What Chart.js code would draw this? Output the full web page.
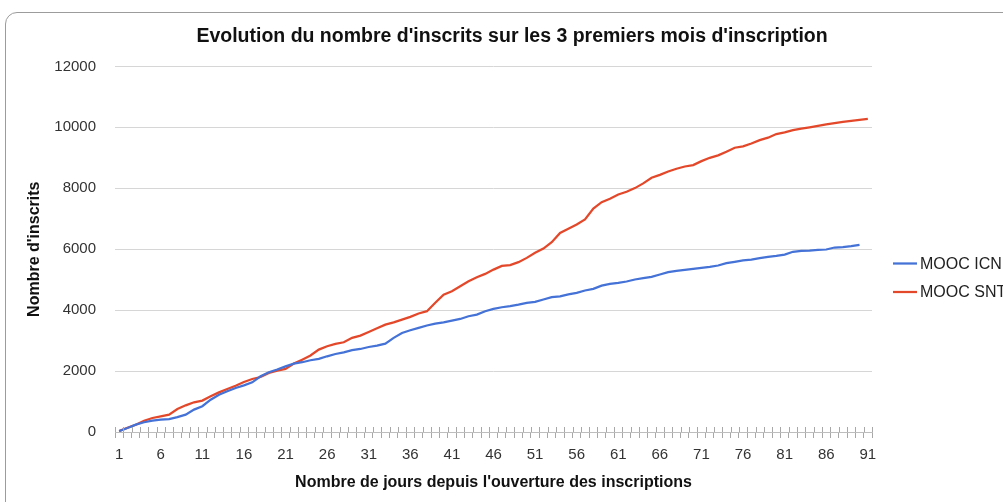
<!DOCTYPE html>
<html>
<head>
<meta charset="utf-8">
<script src="https://cdn.jsdelivr.net/npm/chart.js@4/dist/chart.umd.min.js"></script>
<style>
  html, body { margin: 0; padding: 0; background: #fff; overflow: hidden; width: 1003px; height: 502px; }
  #card { position: absolute; left: 5px; top: 12px; width: 1100px; height: 600px; border: 1px solid #9c9c9c; border-radius: 12px; box-sizing: border-box; }
  #wrap { position: absolute; left: 0; top: 0; width: 1024px; height: 502px; }
</style>
</head>
<body>
<div id="card"></div>
<div id="wrap"><canvas id="c"></canvas></div>
<script>
const days = Array.from({length: 91}, (_, i) => String(i + 1));

const moocICN = [
  30, 130, 240, 320, 370, 405, 425, 490, 570, 735,
  845, 1060, 1225, 1335, 1445, 1530, 1630, 1830, 1960, 2050,
  2155, 2245, 2290, 2355, 2400, 2485, 2560, 2615, 2685, 2725,
  2790, 2835, 2900, 3090, 3250, 3340, 3415, 3495, 3560, 3600,
  3655, 3710, 3800, 3855, 3965, 4040, 4095, 4130, 4180, 4240,
  4270, 4350, 4425, 4455, 4520, 4565, 4645, 4700, 4805, 4860,
  4895, 4940, 5005, 5050, 5090, 5170, 5245, 5290, 5320, 5355,
  5385, 5420, 5465, 5540, 5585, 5630, 5660, 5705, 5750, 5780,
  5825, 5915, 5945, 5955, 5980, 5990, 6055, 6065, 6100, 6145
];

const moocSNT = [
  30, 140, 240, 370, 460, 515, 570, 755, 875, 975,
  1030, 1170, 1300, 1410, 1520, 1640, 1740, 1805, 1940, 2015,
  2070, 2245, 2375, 2510, 2705, 2815, 2890, 2945, 3090, 3165,
  3285, 3405, 3525, 3600, 3690, 3780, 3890, 3965, 4240, 4510,
  4620, 4785, 4950, 5080, 5190, 5330, 5450, 5480, 5575, 5715,
  5880, 6020, 6230, 6535, 6670, 6810, 6975, 7335, 7545, 7655,
  7795, 7885, 8005, 8160, 8345, 8440, 8550, 8640, 8715, 8760,
  8890, 9000, 9080, 9200, 9330, 9375, 9470, 9580, 9660, 9780,
  9835, 9910, 9955, 10000, 10050, 10100, 10140, 10180, 10215, 10245,
  10275
];

const seriesNames = ['MOOC ICN', 'MOOC SNT'];
const titleText = "Evolution du nombre d'inscrits sur les 3 premiers mois d'inscription";
const xTitle = "Nombre de jours depuis l'ouverture des inscriptions";
const yTitle = "Nombre d'inscrits";

const FONT = "'Liberation Sans', Arial, sans-serif";

const sideLegend = {
  id: 'sideLegend',
  afterDraw(chart) {
    const ctx = chart.ctx;
    ctx.save();
    chart.data.datasets.forEach((ds, i) => {
      const y = 263.5 + i * 28.5;
      ctx.strokeStyle = ds.borderColor;
      ctx.lineWidth = ds.borderWidth;
      ctx.beginPath();
      ctx.moveTo(893, y);
      ctx.lineTo(917, y);
      ctx.stroke();
      ctx.fillStyle = '#222';
      ctx.font = '16px ' + FONT;
      ctx.textBaseline = 'middle';
      ctx.textAlign = 'left';
      ctx.fillText(ds.label, 920, y + 1);
    });
    ctx.restore();
  }
};

// small tick marks rising above the category axis line (Excel style cross ticks)
const crossTicks = {
  id: 'crossTicks',
  afterDraw(chart) {
    const xs = chart.scales.x;
    const ctx = chart.ctx;
    const n = chart.data.labels.length;
    const step = xs.getPixelForValue(1) - xs.getPixelForValue(0);
    const yb = chart.chartArea.bottom;
    ctx.save();
    ctx.strokeStyle = '#a8a8a8';
    ctx.lineWidth = 1;
    ctx.beginPath();
    for (let i = 0; i <= n; i++) {
      const x = Math.round(xs.getPixelForValue(i) - step / 2) + 0.5;
      ctx.moveTo(x, yb - 5);
      ctx.lineTo(x, yb);
    }
    ctx.stroke();
    ctx.restore();
  }
};

new Chart(document.getElementById('c'), {
  type: 'line',
  data: {
    labels: days,
    datasets: [
      { label: seriesNames[0], data: moocICN, borderColor: '#4472d6', backgroundColor: '#4472d6', borderWidth: 2.25, pointRadius: 0, tension: 0 },
      { label: seriesNames[1], data: moocSNT, borderColor: '#e4482a', backgroundColor: '#e4482a', borderWidth: 2.25, pointRadius: 0, tension: 0 }
    ]
  },
  options: {
    responsive: true,
    maintainAspectRatio: false,
    animation: false,
    layout: { padding: { left: 0, right: 0, top: 0, bottom: 0 } },
    plugins: {
      legend: { display: false },
      tooltip: { enabled: false },
      title: {
        display: true,
        text: titleText,
        color: '#111',
        font: { family: FONT, size: 19.5, weight: 'bold' },
        padding: { top: 25, bottom: 18 }
      }
    },
    scales: {
      x: {
        offset: true,
        grid: { display: true, drawOnChartArea: false, drawTicks: true, tickLength: 6, color: '#a8a8a8', offset: true },
        border: { display: true, color: '#bdbdbd', width: 1 },
        ticks: {
          autoSkip: false, maxRotation: 0, minRotation: 0, padding: 8,
          color: '#333', font: { family: FONT, size: 15 },
          callback: function(val, idx) { return idx % 5 === 0 ? this.getLabelForValue(val) : ''; }
        },
        title: { display: true, text: xTitle, color: '#111', font: { family: FONT, size: 16, weight: 'bold' }, padding: { top: 0, bottom: 10 } },
        afterFit(scale) { scale.height = 70; }
      },
      y: {
        min: 0, max: 12000,
        grid: { color: '#d6d6d6', drawTicks: false },
        border: { display: false },
        ticks: { stepSize: 2000, padding: 19, color: '#333', font: { family: FONT, size: 15 },
          callback: (v) => String(v) },
        title: { display: true, text: yTitle, color: '#111', font: { family: FONT, size: 16, weight: 'bold' }, padding: { top: 25, bottom: 0 } },
        afterFit(scale) { scale.width = 115; }
      },
      legendSpace: {
        type: 'linear',
        position: 'right',
        display: true,
        grid: { display: false, drawTicks: false },
        border: { display: false },
        ticks: { display: false },
        afterFit(scale) { scale.width = 152; }
      }
    }
  },
  plugins: [sideLegend, crossTicks]
});
</script>
</body>
</html>
